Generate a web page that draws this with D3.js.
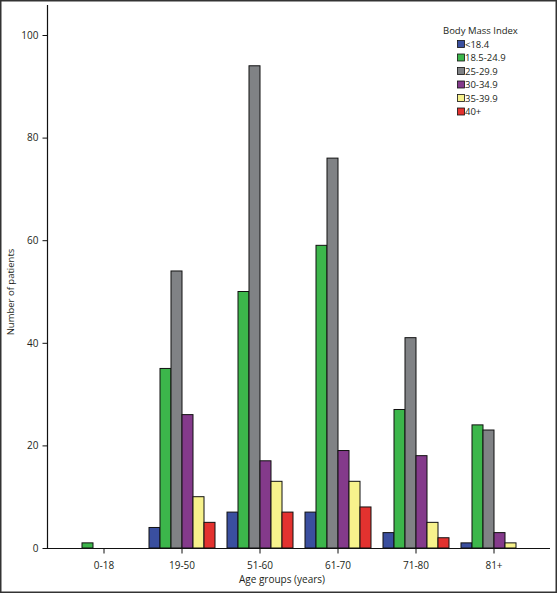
<!DOCTYPE html>
<html><head><meta charset="utf-8">
<script src="https://cdn.jsdelivr.net/npm/d3@7"></script>
<style>body{margin:0;background:#fff}svg{display:block}text{font-family:"Open Sans",sans-serif;fill:#231f20}</style>
</head><body><svg id="c" width="557" height="593"></svg>
<script>
const categories = ["0-18","19-50","51-60","61-70","71-80","81+"];
const seriesNames = ["<18.4","18.5-24.9","25-29.9","30-34.9","35-39.9","40+"];
const under18_4 = [0,4,7,7,3,1];
const bmi18_5 = [1,35,50,59,27,24];
const bmi25 = [0,54,94,76,41,23];
const bmi30 = [0,26,17,19,18,3];
const bmi35 = [0,10,13,13,5,1];
const bmi40 = [0,5,7,8,2,0];
const seriesValues = [under18_4,bmi18_5,bmi25,bmi30,bmi35,bmi40];
const colors = ["#3a4f9f","#3cb64b","#808285","#843a8b","#f7f28c","#e3322f"];
const yTicks = [0,20,40,60,80,100];

const svg = d3.select("#c");
svg.append("rect").attr("x",0.75).attr("y",0.75).attr("width",555.5).attr("height",591.5)
  .attr("fill","none").attr("stroke","#333").attr("stroke-width",1.5);

const x = d3.scaleBand().domain(categories).range([65,533]).padding(0);
const barW = 11;
const xs = d3.scaleBand().domain(seriesNames).range([-3*barW,3*barW]);
const y = d3.scaleLinear().domain([0,100]).range([548,35]);

// bars
seriesNames.forEach((s,si)=>{
  svg.append("g").selectAll("rect").data(categories.map((c,i)=>({c,v:seriesValues[si][i]})).filter(d=>d.v>0))
   .join("rect")
   .attr("x",d=>x(d.c)+x.bandwidth()/2+xs(s))
   .attr("y",d=>y(d.v))
   .attr("width",xs.bandwidth())
   .attr("height",d=>y(0)-y(d.v))
   .attr("fill",colors[si]).attr("stroke","#111").attr("stroke-width",1);
});

// y axis
const ya = svg.append("g").attr("transform","translate(47.5,0)")
  .call(d3.axisLeft(y).tickValues(yTicks).tickSize(5).tickPadding(4));
ya.select(".domain").remove();
ya.selectAll("line").attr("stroke","#111");
ya.selectAll("text").style("font-size","10px").style("font-family","Open Sans, sans-serif").attr("fill","#231f20");
svg.append("line").attr("x1",47.5).attr("x2",47.5).attr("y1",5).attr("y2",548.5).attr("stroke","#111").attr("stroke-width",1.2);

// x axis
const xa = svg.append("g").attr("transform","translate(0,548.5)")
  .call(d3.axisBottom(x).tickSize(5).tickPadding(8));
xa.select(".domain").remove();
xa.selectAll("line").attr("stroke","#111");
xa.selectAll("text").style("font-size","10px").style("font-family","Open Sans, sans-serif").attr("fill","#231f20");
svg.append("line").attr("x1",47).attr("x2",550).attr("y1",548.5).attr("y2",548.5).attr("stroke","#111").attr("stroke-width",1.2);

// axis titles
svg.append("text").attr("x",282).attr("y",583).attr("text-anchor","middle").style("font-size","10px").text("Age groups (years)");
svg.append("text").attr("transform","translate(14,292) rotate(-90)").attr("text-anchor","middle").style("font-size","9.5px").text("Number of patients");

// legend
const lg = svg.append("g");
lg.append("text").attr("x",443).attr("y",34).style("font-size","9.5px").text("Body Mass Index");
seriesNames.forEach((s,i)=>{
  const cy = 44 + i*13.5;
  lg.append("rect").attr("x",457.5).attr("y",cy-3.5).attr("width",7).attr("height",7)
    .attr("fill",colors[i]).attr("stroke","#111").attr("stroke-width",0.8);
  lg.append("text").attr("x",465).attr("y",cy+3.5).style("font-size","9.5px").text(s);
});
</script></body></html>
